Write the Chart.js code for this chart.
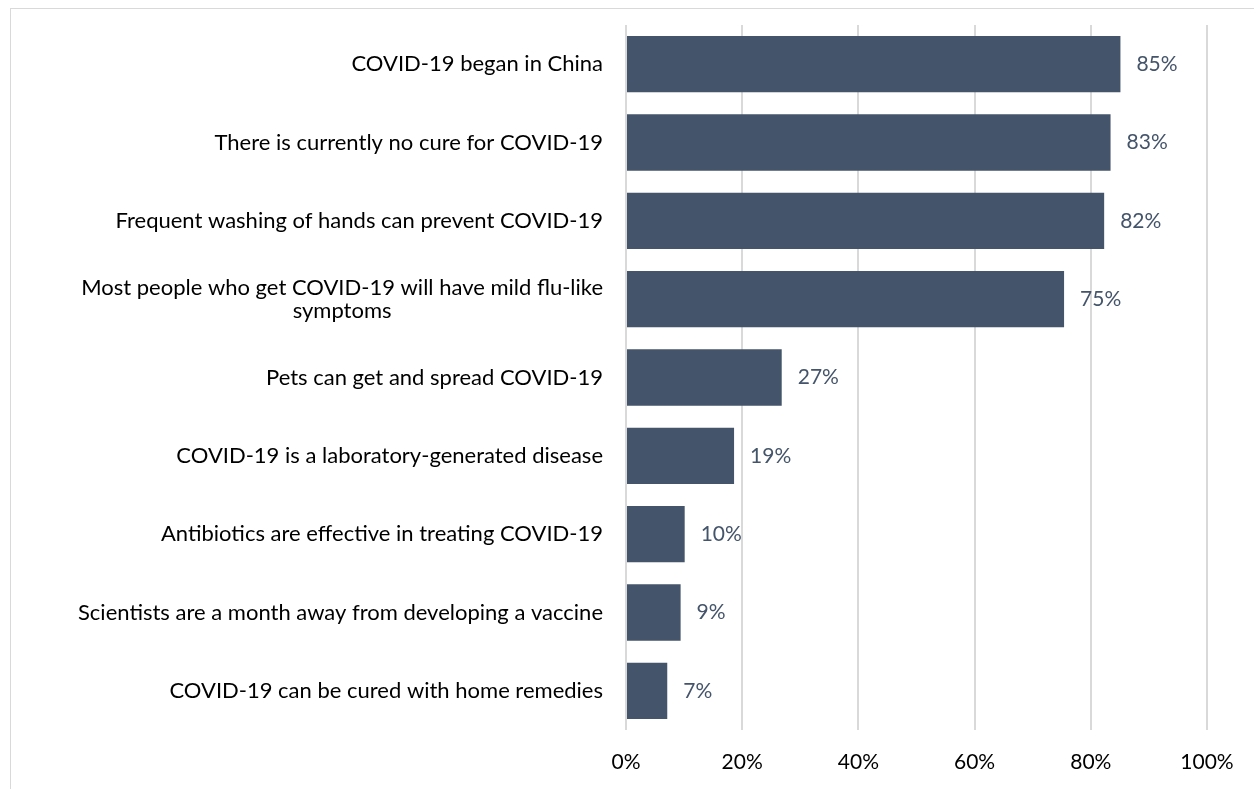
<!DOCTYPE html>
<html>
<head>
<meta charset="utf-8">
<script src="https://cdn.jsdelivr.net/npm/chart.js@4"></script>
<style>
  html, body { margin: 0; padding: 0; background: #fff; overflow: hidden; }
  #wrap { position: relative; width: 1254px; height: 789px; }
  #frame {
    position: absolute; left: 10px; top: 8px; width: 1300px; height: 900px;
    border-top: 1.5px solid #d9d9d9; border-left: 1.5px solid #d9d9d9;
    pointer-events: none;
  }
  canvas { position: absolute; left: 0; top: 0; }
</style>
</head>
<body>
<div id="wrap">
  <canvas id="chart" width="1254" height="789"></canvas>
  <div id="frame"></div>
</div>
<script>
const categories = [
  ['COVID-19 began in China'],
  ['There is currently no cure for COVID-19'],
  ['Frequent washing of hands can prevent COVID-19'],
  ['Most people who get COVID-19 will have mild flu-like', 'symptoms'],
  ['Pets can get and spread COVID-19'],
  ['COVID-19 is a laboratory-generated disease'],
  ['Antibiotics are effective in treating COVID-19'],
  ['Scientists are a month away from developing a vaccine'],
  ['COVID-19 can be cured with home remedies']
];
const shares = [85.1, 83.4, 82.3, 75.4, 26.8, 18.6, 10.1, 9.4, 7.1];
const xTicks = [0, 20, 40, 60, 80, 100];

const BAR = '#44546a';
const FONT = 'Lato, "Open Sans", sans-serif';

// category labels, right aligned; wrapped lines centred under the longest line
const catLabels = {
  id: 'catLabels',
  afterDraw(chart) {
    const ctx = chart.ctx;
    const y = chart.scales.y;
    const right = chart.chartArea.left - 23;
    ctx.save();
    ctx.font = '22px ' + FONT;
    ctx.fillStyle = '#000';
    ctx.textBaseline = 'middle';
    ctx.textAlign = 'center';
    categories.forEach((lines, i) => {
      const cy = y.getPixelForValue(i);
      const w = Math.max(...lines.map(l => ctx.measureText(l).width));
      const cx = right - w / 2;
      const lh = 23;
      const y0 = cy - (lines.length - 1) * lh / 2;
      lines.forEach((l, j) => ctx.fillText(l, cx, y0 + j * lh));
    });
    ctx.restore();
  }
};

const valueLabels = {
  id: 'valueLabels',
  afterDatasetsDraw(chart) {
    const ctx = chart.ctx;
    const meta = chart.getDatasetMeta(0);
    ctx.save();
    ctx.font = '21px ' + FONT;
    ctx.fillStyle = BAR;
    ctx.textBaseline = 'middle';
    ctx.textAlign = 'left';
    meta.data.forEach((bar, i) => {
      ctx.fillText(Math.round(shares[i]) + '%', bar.x + 16, bar.y);
    });
    ctx.restore();
  }
};

new Chart(document.getElementById('chart').getContext('2d'), {
  type: 'bar',
  data: {
    labels: categories.map(c => c.join(' ')),
    datasets: [{
      data: shares,
      backgroundColor: BAR,
      barPercentage: 0.72,
      categoryPercentage: 1.0
    }]
  },
  options: {
    indexAxis: 'y',
    responsive: false,
    animation: false,
    layout: { padding: { left: 0, right: 47, top: 25, bottom: 0 } },
    plugins: { legend: { display: false }, tooltip: { enabled: false } },
    scales: {
      x: {
        min: 0, max: 100,
        afterBuildTicks: s => { s.ticks = xTicks.map(v => ({ value: v })); },
        afterFit: s => { s.height = 59; },
        grid: { color: '#d9d9d9', lineWidth: 2, drawTicks: false },
        border: { display: false },
        ticks: {
          padding: 20,
          color: '#000',
          font: { family: FONT, size: 21 },
          callback: v => v + '%'
        }
      },
      y: {
        afterFit: s => { s.width = 626; },
        grid: { display: false },
        border: { display: false },
        ticks: { display: false }
      }
    }
  },
  plugins: [catLabels, valueLabels]
});
</script>
</body>
</html>
